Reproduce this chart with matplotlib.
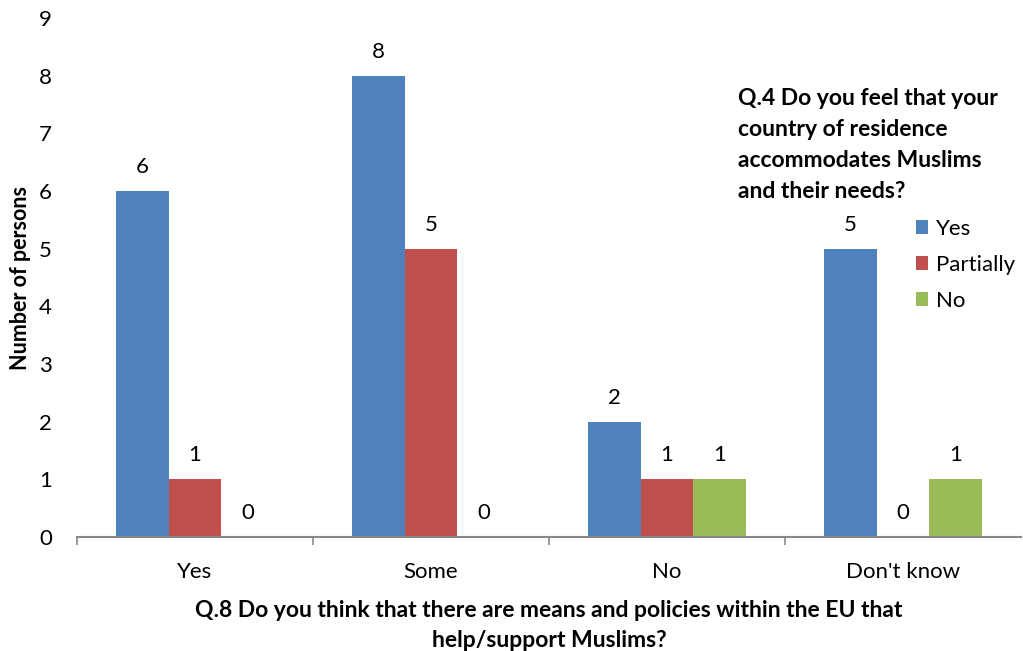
import matplotlib.pyplot as plt
import numpy as np

plt.rcParams['font.family'] = ['Lato', 'DejaVu Sans']

categories = ["Yes", "Some", "No", "Don't know"]
series_names = ["Yes", "Partially", "No"]
yes_vals = [6, 8, 2, 5]
partially_vals = [1, 5, 1, 0]
no_vals = [0, 0, 1, 1]
colors = ["#4F81BD", "#C0504D", "#9BBB59"]

fig = plt.figure(figsize=(10.23, 6.51), dpi=100)
ax = fig.add_axes([77 / 1023, 1 - 537 / 651, 944 / 1023, (537 - 18) / 651])

x = np.arange(len(categories))
bw = 0.222
for i, (vals, name, col) in enumerate(zip([yes_vals, partially_vals, no_vals], series_names, colors)):
    bars = ax.bar(x + (i - 1) * bw, vals, width=bw, color=col, label=name)
    ax.bar_label(bars, labels=[str(v) for v in vals], padding=10, fontsize=16)

ax.set_xlim(-0.5, len(categories) - 0.5)
ax.set_ylim(0, 9)
ax.set_yticks(range(10))
ax.tick_params(axis='y', length=0, pad=18, labelsize=16)
ax.set_xticks(x)
ax.set_xticklabels(categories, fontsize=16)
ax.tick_params(axis='x', length=0, pad=18)
ax.set_xticks(np.arange(-0.5, len(categories) - 0.5, 1), minor=True)
ax.tick_params(axis='x', which='minor', length=6, width=1.2, color='#888888')
for s in ['top', 'right', 'left']:
    ax.spines[s].set_visible(False)
ax.spines['bottom'].set_color('#888888')
ax.spines['bottom'].set_linewidth(1.5)

ax.set_ylabel("Number of persons", fontsize=15.5, fontweight='bold', labelpad=6)
ax.set_xlabel("Q.8 Do you think that there are means and policies within the EU that\nhelp/support Muslims?",
              fontsize=16.5, fontweight='bold', labelpad=13, linespacing=1.5)

fig.text(738 / 1023, 1 - 88 / 651,
         "Q.4 Do you feel that your\ncountry of residence\naccommodates Muslims\nand their needs?",
         fontsize=16.5, fontweight='bold', ha='left', va='top', linespacing=1.58)

ax.legend(loc='upper left', bbox_to_anchor=(916 / 1023, 1 - 219 / 651), bbox_transform=fig.transFigure,
          frameon=False, fontsize=16, handlelength=0.55, handleheight=0.55, handletextpad=0.35,
          labelspacing=0.72, borderaxespad=0, borderpad=0)

fig.savefig("out.png", dpi=100)
